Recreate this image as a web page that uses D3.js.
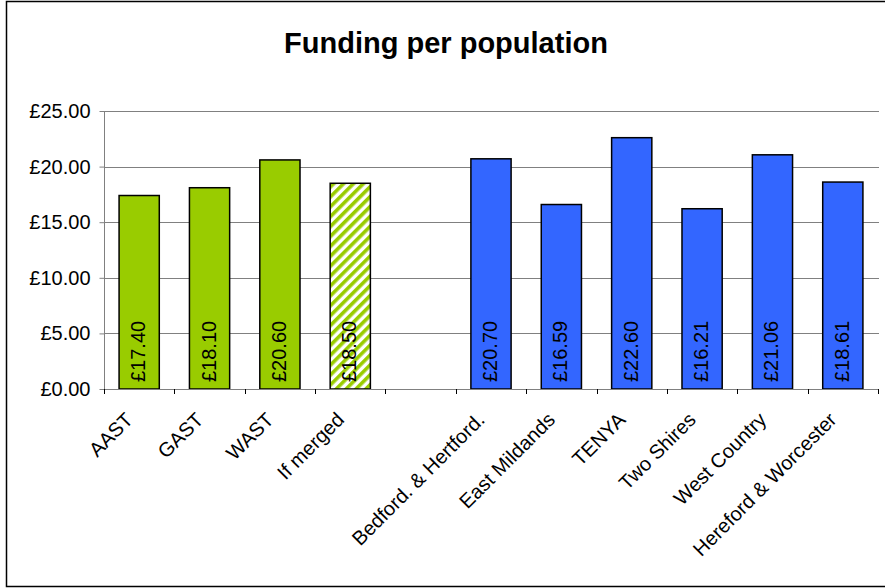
<!DOCTYPE html>
<html>
<head>
<meta charset="utf-8">
<script src="https://cdn.jsdelivr.net/npm/d3@7"></script>
<style>
  html, body { margin: 0; padding: 0; background: #fff; }
  svg { display: block; font-family: "Liberation Sans", Arial, sans-serif; }
</style>
</head>
<body>
<svg id="chart" width="885" height="588"></svg>
<script>
// Funding per head of population, by service
const categories = ["AAST", "GAST", "WAST", "If merged", "",
  "Bedford. & Hertford.", "East Mildands", "TENYA", "Two Shires", "West Country", "Hereford & Worcester"];
const values = [17.40, 18.10, 20.60, 18.50, null, 20.70, 16.59, 22.60, 16.21, 21.06, 18.61];
const groups = ["air", "air", "air", "merged", "none", "other", "other", "other", "other", "other", "other"];
const yTicks = [0, 5, 10, 15, 20, 25];
const title = "Funding per population";

const svg = d3.select("#chart");
const W = 885, H = 588;
const plot = { left: 104, right: 878, top: 111, bottom: 389 };

// outer frame
svg.append("rect")
  .attr("x", 6.5).attr("y", 1.5)
  .attr("width", W + 10).attr("height", 585)
  .attr("fill", "none").attr("stroke", "#000").attr("stroke-width", 1.5);

// diagonal hatch for the merged bar
const defs = svg.append("defs");
const pat = defs.append("pattern")
  .attr("id", "hatch")
  .attr("patternUnits", "userSpaceOnUse")
  .attr("width", 7).attr("height", 7)
  .attr("patternTransform", "rotate(45)");
pat.append("rect").attr("width", 7).attr("height", 7).attr("fill", "#fff");
pat.append("rect").attr("width", 3.6).attr("height", 7).attr("fill", "#99CC00");

const x = d3.scaleBand()
  .domain(d3.range(categories.length))
  .range([plot.left, plot.right])
  .paddingInner(0).paddingOuter(0);

const y = d3.scaleLinear().domain([0, 25]).range([plot.bottom, plot.top]);

const step = x.step();
const barW = step / 1.75;

// horizontal gridlines
svg.append("g")
  .selectAll("line")
  .data(yTicks.filter(d => d > 0))
  .join("line")
  .attr("x1", plot.left).attr("x2", plot.right + 1)
  .attr("y1", d => Math.round(y(d)) + 0.5).attr("y2", d => Math.round(y(d)) + 0.5)
  .attr("stroke", "#808080").attr("stroke-width", 1);

// y axis
const yAxis = svg.append("g")
  .attr("transform", `translate(${plot.left + 0.5},0)`)
  .call(d3.axisLeft(y).tickValues(yTicks).tickSize(5).tickPadding(9)
    .tickFormat(d => "£" + d3.format(".2f")(d)));
yAxis.select(".domain").attr("stroke", "#808080").attr("d", `M0,${plot.top}V${plot.bottom + 5}`);
yAxis.selectAll(".tick line").attr("stroke", "#808080");
yAxis.selectAll(".tick text")
  .attr("fill", "#000").attr("font-size", 20).attr("font-family", "Liberation Sans, Arial, sans-serif");

// bars
const fillFor = g => g === "air" ? "#99CC00" : g === "merged" ? "url(#hatch)" : "#3366FF";
const barData = values.map((v, i) => ({ i, v, g: groups[i] })).filter(d => d.v != null);

svg.append("g")
  .selectAll("rect")
  .data(barData)
  .join("rect")
  .attr("x", d => x(d.i) + (step - barW) / 2)
  .attr("width", barW)
  .attr("y", d => y(d.v))
  .attr("height", d => y(0) - y(d.v))
  .attr("fill", d => fillFor(d.g))
  .attr("stroke", "#000").attr("stroke-width", 1.5);

// x axis line and ticks at category boundaries
const xAxisG = svg.append("g");
xAxisG.append("line")
  .attr("x1", plot.left).attr("x2", plot.right + 1)
  .attr("y1", plot.bottom + 0.5).attr("y2", plot.bottom + 0.5)
  .attr("stroke", "#808080");
xAxisG.selectAll("line.tk")
  .data(d3.range(categories.length + 1))
  .join("line").attr("class", "tk")
  .attr("x1", i => Math.round(plot.left + i * step) + 0.5)
  .attr("x2", i => Math.round(plot.left + i * step) + 0.5)
  .attr("y1", plot.bottom).attr("y2", plot.bottom + 5)
  .attr("stroke", "#000");

// value labels inside bars
svg.append("g")
  .selectAll("text")
  .data(barData)
  .join("text")
  .attr("transform", d => `translate(${x(d.i) + step / 2 - 1},${plot.bottom - 7}) rotate(-90)`)
  .attr("dy", "0.35em")
  .attr("font-size", 20)
  .attr("fill", "#000")
  .text(d => "£" + d3.format(".2f")(d.v));

// rotated category labels
svg.append("g")
  .selectAll("text")
  .data(categories.map((c, i) => ({ c, i })).filter(d => d.c))
  .join("text")
  .attr("transform", d => `translate(${x(d.i) + step / 2 - 5},${plot.bottom + 32}) rotate(-45)`)
  .attr("text-anchor", "end")
  .attr("font-size", 20)
  .attr("fill", "#000")
  .text(d => d.c);

// title
svg.append("text")
  .attr("x", 446).attr("y", 53)
  .attr("text-anchor", "middle")
  .attr("font-size", 29).attr("font-weight", "bold")
  .attr("fill", "#000")
  .text(title);
</script>
</body>
</html>
